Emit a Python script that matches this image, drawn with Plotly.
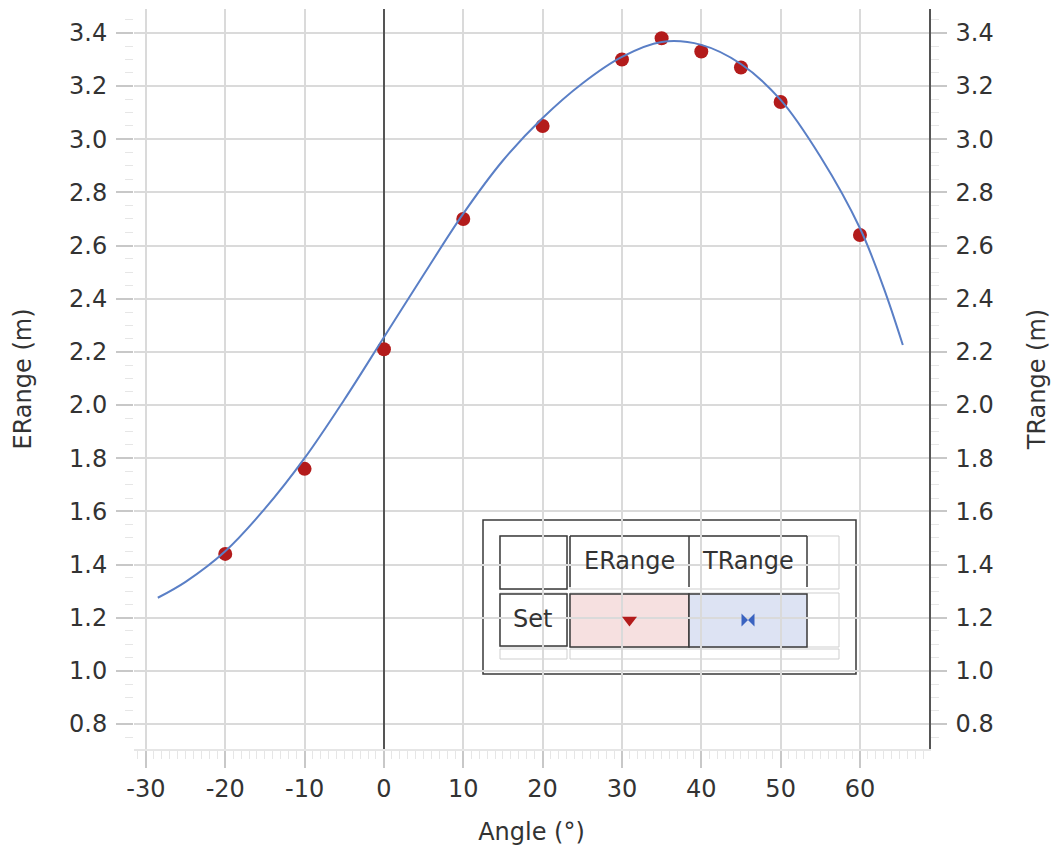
import plotly.graph_objects as go

# ---- data ----
angle_exp = [-20, -10, 0, 10, 20, 30, 35, 40, 45, 50, 60]
erange = [1.44, 1.76, 2.21, 2.70, 3.05, 3.30, 3.38, 3.33, 3.27, 3.14, 2.64]

angle_th = [-28.5, -25, -20, -15, -10, -5, 0, 5, 10, 15, 20, 25, 30, 35, 40, 45, 50, 55, 60, 63, 65.4]
trange = [1.275, 1.335, 1.45, 1.61, 1.80, 2.02, 2.255, 2.49, 2.72, 2.92, 3.08, 3.21, 3.31,
          3.366, 3.355, 3.283, 3.148, 2.935, 2.665, 2.44, 2.226]

x_ticks = [-30, -20, -10, 0, 10, 20, 30, 40, 50, 60]
y_ticks = [0.8, 1.0, 1.2, 1.4, 1.6, 1.8, 2.0, 2.2, 2.4, 2.6, 2.8, 3.0, 3.2, 3.4]
legend_cols = ["ERange", "TRange"]
legend_row = "Set"

# ---- layout geometry (pixels) ----
W, H = 1052, 847
L, R, T, B = 134, 929, 9, 749
XR = [-31.5, 68.7]
YR = [0.706, 3.49]
FONT = "DejaVu Sans"
TXT = "#333333"
RED = "#b31b1b"
BLUE = "#5a7fc6"
FS = 24


def px(x):
    return (x - L) / (R - L)


def py(y):
    return (B - y) / (B - T)


def dx(x):
    return XR[0] + px(x) * (XR[1] - XR[0])


def dy(y):
    return YR[0] + py(y) * (YR[1] - YR[0])


fig = go.Figure()

fig.add_trace(go.Scatter(
    x=angle_th, y=trange, mode="lines", line=dict(color=BLUE, width=2, shape="spline", smoothing=1.0),
    yaxis="y2", showlegend=False, hoverinfo="skip"))
fig.add_trace(go.Scatter(
    x=angle_exp, y=erange, mode="markers", marker=dict(color=RED, size=14),
    showlegend=False))

# ---- legend table drawn as shapes ----
shapes = []
light = dict(color="#cfcfcf", width=1)
dark = dict(color="#3a3a3a", width=1.5)


def rect(x0, y0, x1, y1, line, fill="rgba(0,0,0,0)"):
    shapes.append(dict(type="rect", xref="paper", yref="paper",
                       x0=px(x0), x1=px(x1), y0=py(y1), y1=py(y0),
                       line=line, fillcolor=fill, layer="between"))


def seg(x0, y0, x1, y1, line):
    shapes.append(dict(type="line", xref="paper", yref="paper",
                       x0=px(x0), x1=px(x1), y0=py(y0), y1=py(y1),
                       line=line, layer="between"))


rect(483, 520, 856, 674, dict(color="#3a3a3a", width=1.5), "white")
# light grid
rect(500, 536, 567, 589, light)
rect(570, 536, 839, 589, light)
rect(500, 593, 567, 647, light)
rect(570, 593, 839, 647, light)
rect(500, 649, 567, 659, light)
rect(570, 649, 839, 659, light)
# dark cells
rect(500, 536, 567, 589, dark, "white")
seg(570, 536, 807, 536, dark)
seg(570, 536, 570, 587, dark)
seg(689, 536, 689, 587, dark)
seg(807, 536, 807, 587, dark)
rect(500, 594, 567, 646, dark, "white")
rect(570, 594, 689, 647, dark, "#f6e0e0")
rect(689, 594, 807, 647, dark, "#dde3f3")


def label(text, x, y):
    return dict(text=text, x=px(x), y=py(y), xref="paper", yref="paper", showarrow=False,
                xanchor="center", yanchor="middle",
                font=dict(family=FONT, size=FS, color=TXT))


annotations = [
    label(legend_cols[0], 629.5, 561),
    label(legend_cols[1], 748, 561),
    label(legend_row, 532, 619),
]

# legend glyphs
fig.add_trace(go.Scatter(x=[dx(629.5)], y=[dy(620)], mode="markers",
                         marker=dict(symbol="triangle-down", color=RED, size=13),
                         showlegend=False, hoverinfo="skip", cliponaxis=False))
fig.add_trace(go.Scatter(x=[dx(748)], y=[dy(620)], mode="markers",
                         marker=dict(symbol="bowtie", color="#3a63c0", size=13),
                         showlegend=False, hoverinfo="skip", cliponaxis=False))

tickfont = dict(family=FONT, size=FS, color=TXT)
titlefont = dict(family=FONT, size=FS, color=TXT)

fig.update_layout(
    width=W, height=H,
    margin=dict(l=L, r=W - R, t=T, b=H - B, autoexpand=False),
    plot_bgcolor="white", paper_bgcolor="white",
    showlegend=False,
    shapes=shapes,
    annotations=annotations,
    xaxis=dict(
        range=XR, tickvals=x_ticks, ticktext=[str(v) for v in x_ticks],
        showgrid=True, gridcolor="#dadada", gridwidth=1.5,
        zeroline=True, zerolinecolor="#555555", zerolinewidth=1.5,
        showline=True, linecolor="#e6e6e6", linewidth=2,
        ticks="outside", ticklen=17, tickcolor="#c8c8c8", tickwidth=1.5,
        minor=dict(dtick=1, ticks="outside", ticklen=8, tickcolor="#e6e6e6", tickwidth=1),
        tickfont=tickfont, automargin=False,
        title=dict(text="Angle (°)", font=titlefont, standoff=21),
        fixedrange=True,
    ),
    yaxis=dict(
        range=YR, tickvals=y_ticks, ticktext=[f"{v:.1f}" for v in y_ticks],
        showgrid=True, gridcolor="#dadada", gridwidth=1.5, zeroline=False,
        showline=False,
        ticks="outside", ticklen=17, tickcolor="#c8c8c8", tickwidth=1.5,
        minor=dict(dtick=0.05, ticks="outside", ticklen=8, tickcolor="#e6e6e6", tickwidth=1),
        tickfont=tickfont, automargin=False, ticklabelstandoff=4,
        title=dict(text="ERange (m)", font=titlefont, standoff=30),
        fixedrange=True,
    ),
    yaxis2=dict(
        range=YR, overlaying="y", side="right", anchor="x",
        tickvals=y_ticks, ticktext=[f"{v:.1f}" for v in y_ticks],
        showgrid=False, zeroline=False,
        showline=True, linecolor="#555555", linewidth=1.5,
        ticks="outside", ticklen=16, tickcolor="#c8c8c8", tickwidth=1.5,
        minor=dict(dtick=0.05, ticks="outside", ticklen=8, tickcolor="#e6e6e6", tickwidth=1),
        tickfont=tickfont, automargin=False, ticklabelstandoff=4,
        title=dict(text="TRange (m)", font=titlefont, standoff=35),
        fixedrange=True,
    ),
)

fig.write_html("out.html", config={"displayModeBar": False},
               post_script="document.body.style.margin='0px';document.body.style.overflow='hidden';")
